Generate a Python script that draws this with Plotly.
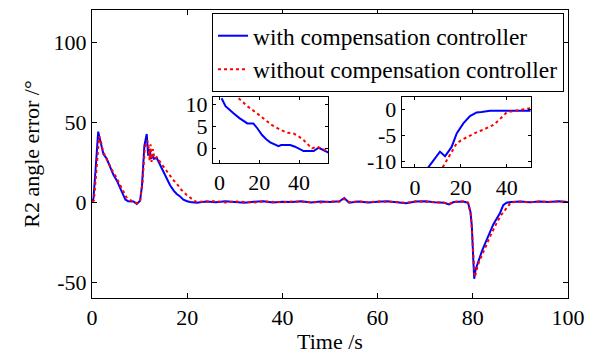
import plotly.graph_objects as go

# ---------------- data ----------------
t_with = [0, 0.3, 0.7, 1.0, 1.3, 1.6, 2.0, 2.4, 3.1, 4.0, 4.5, 5.2, 5.9, 6.6, 7.0, 7.6, 8.7, 9.4, 10.1,
          10.5, 11.0, 11.5, 11.8, 12.1, 12.4, 12.7, 13.0, 13.6, 14.5, 15.7, 16.4, 17.2, 17.8, 18.5, 19.2,
          20.0, 20.6, 22, 24, 26, 28, 30, 32, 34, 36, 38, 40, 42, 44, 46, 48, 50, 52, 53, 53.5, 54, 56,
          58, 60, 62, 64, 66, 68, 70, 72, 74, 75, 76, 78, 79, 79.5, 79.8, 80.1, 80.3, 80.6, 80.9, 81.2,
          82, 82.9, 83.6, 84.3, 85, 85.7, 86.4, 87.1, 88, 90, 92, 94, 96, 98, 100]
e_with = [0, 2, 18, 35, 44, 40, 34, 30, 27, 20, 17, 13.5, 8.5, 4.5, 1.5, 0.5, 0.3, -1.2, 0.8,
          10, 35, 42.5, 29, 33, 27, 29, 27, 27.5, 22, 14, 10.5, 7, 5, 3.5, 1.5,
          0.5, 0, -0.5, 0.3, -0.2, 0.4, 0, -0.4, 0.2, 0.5, -0.3, 0.2, 0, 0.5, -0.3, 0.3, 0, 0.4, 2.5, 1, -0.5, 0.3,
          -0.3, 0.2, 0.5, -0.2, -0.8, 0.3, 0.5, -0.2, -0.5, -1.5, 0, 0.3, -0.5, -6, -15, -36, -48, -42, -40, -37,
          -30, -23.5, -19, -14, -10.5, -7, -2, -0.4, 0, 0.3, -0.2, 0.3, 0, 0.4, 0]

t_without = [0, 0.4, 0.8, 1.2, 1.5, 1.8, 2.2, 2.7, 3.5, 4.2, 5.0, 5.8, 6.5, 7.2, 7.8, 8.7, 9.4, 10.1,
             10.6, 11.1, 11.6, 11.9, 12.1, 12.3, 12.5, 12.8, 13.1, 13.6, 14.3, 15.0, 16.0, 17.0, 17.8,
             18.8, 19.9, 20.6, 21.3, 22, 24, 26, 28, 30, 32, 34, 36, 38, 40, 42, 44, 46, 48, 50, 52, 53,
             53.6, 54, 56, 58, 60, 62, 64, 66, 68, 70, 72, 74, 75, 76, 78, 79, 79.6, 79.9, 80.2, 80.4, 80.7,
             81, 81.5, 82.3, 83.0, 83.6, 84.4, 85.2, 86, 86.8, 87.5, 88, 89, 90, 92, 94, 96, 98, 100]
e_without = [0, 1, 15, 32, 41, 39, 33, 29, 24, 20, 16, 11, 6.5, 3, 1.5, 0.3, -0.8, 0.8,
             12, 34, 38.5, 34, 26, 36, 25, 33, 27, 28, 25, 22, 17.5, 14, 11.5,
             7.5, 4.4, 2.5, 1.2, 0, 0.2, 0.5, -0.3, 0.3, 0, -0.3, 0.4, 0.2, -0.2, 0.3, 0.2, 0, -0.3, 0.3, 0.2, 2,
             0.5, 0, 0.3, -0.2, 0.3, 0.2, 0, -0.5, 0.4, 0.2, -0.3, -0.4, -1.2, 0.2, 0.3, -0.3, -8, -22, -40, -47, -44,
             -40, -36, -31, -26, -21.7, -16.5, -12, -8, -5, -2, -0.3, 0, 0.2, -0.2, 0.3, 0.1, 0.3, 0]

# inset 1 (upper-left inset)
i1_x_with = [1, 3, 7, 10, 14, 17, 19, 21.4, 23.5, 25.5, 29.7, 31, 35.6, 38, 42.3, 47.4, 49.9, 52, 55]
i1_y_with = [11.3, 9.5, 7.9, 6.8, 5.6, 5.6, 4.5, 2.95, 2.0, 1.3, 0.45, 0.7, 0.7, 0.3, -0.7, -0.7, 0.07, -0.4, -1.07]
i1_x_without = [9.6, 14, 18.8, 22.5, 26.4, 30, 34, 37.3, 40, 42.3, 44.5, 46.5, 49, 52, 55]
i1_y_without = [11.3, 9.5, 7.9, 6.5, 5.2, 4.3, 3.5, 3.3, 2.6, 1.8, 0.9, -0.07, 0.3, -0.2, -0.8]

# inset 2 (upper-right inset)
i2_x_with = [5.8, 8, 10.9, 13.1, 16, 18.2, 21.1, 24, 26.9, 29, 32.8, 40, 45, 50.5]
i2_y_with = [-11.1, -9.8, -8.1, -8.98, -7.2, -4.6, -2.7, -1.3, -0.6, -0.5, -0.27, -0.27, -0.27, -0.27]
i2_x_without = [12.1, 15, 18.2, 21, 24, 26.9, 29.8, 32, 34.2, 37, 40, 42, 44.3, 47, 50.5]
i2_y_without = [-11.1, -8.8, -6.5, -5.7, -5.0, -4.4, -3.9, -3.4, -3.0, -1.9, -0.6, -0.4, -0.27, -0.1, 0.2]

main_x_ticks = [0, 20, 40, 60, 80, 100]
main_y_ticks = [-50, 0, 50, 100]
main_y_ticktext = ["-50", "0", "50", "100"]
i1_x_ticks = [0, 20, 40]
i1_y_ticks = [0, 5, 10]
i2_x_ticks = [0, 20, 40]
i2_y_ticks = [-10, -5, 0]
i2_y_ticktext = ["-10", "-5", "0"]

names = ["with compensation controller", "without compensation controller"]

# ---------------- figure ----------------
FONT = "Liberation Serif, Times New Roman, serif"
BLUE = "#0000FF"
RED = "#FF0000"

fig = go.Figure()
fig.add_trace(go.Scatter(x=t_with, y=e_with, mode="lines", name=names[0],
                         line=dict(color=BLUE, width=2)))
fig.add_trace(go.Scatter(x=t_without, y=e_without, mode="lines", name=names[1],
                         line=dict(color=RED, width=2, dash="dot")))
fig.add_trace(go.Scatter(x=i1_x_with, y=i1_y_with, mode="lines", showlegend=False,
                         line=dict(color=BLUE, width=2), xaxis="x2", yaxis="y2"))
fig.add_trace(go.Scatter(x=i1_x_without, y=i1_y_without, mode="lines", showlegend=False,
                         line=dict(color=RED, width=2, dash="dot"), xaxis="x2", yaxis="y2"))
fig.add_trace(go.Scatter(x=i2_x_with, y=i2_y_with, mode="lines", showlegend=False,
                         line=dict(color=BLUE, width=2), xaxis="x3", yaxis="y3"))
fig.add_trace(go.Scatter(x=i2_x_without, y=i2_y_without, mode="lines", showlegend=False,
                         line=dict(color=RED, width=2, dash="dot"), xaxis="x3", yaxis="y3"))

W, H = 593, 354
L, R, T, B = 92, 25, 10, 56
pw, ph = W - L - R, H - T - B


def dom_x(a, b):
    return [(a - L) / pw, (b - L) / pw]


def dom_y(top, bot):
    return [(H - B - bot) / ph, (H - B - top) / ph]


ax_common = dict(showline=True, linecolor="black", linewidth=1, mirror="allticks",
                 ticks="inside", tickcolor="black", showgrid=False, zeroline=False,
                 automargin=False,
                 tickfont=dict(family=FONT, size=22, color="black"))

fig.update_layout(
    width=W, height=H,
    margin=dict(l=L, r=R, t=T, b=B, autoexpand=False),
    paper_bgcolor="white", plot_bgcolor="white",
    font=dict(family=FONT, size=22, color="black"),
    xaxis=dict(range=[0, 100], tickvals=main_x_ticks, ticklen=5,
               title=dict(text="Time /s", font=dict(family=FONT, size=22), standoff=5),
               **ax_common),
    yaxis=dict(range=[-60, 120], tickvals=main_y_ticks, ticktext=main_y_ticktext, ticklen=5,
               title=dict(text="R2 angle error /°", font=dict(family=FONT, size=22), standoff=7),
               **ax_common),
    xaxis2=dict(domain=dom_x(213, 328), anchor="y2", range=[-3.3, 54.6], tickvals=i1_x_ticks,
                ticklen=3, **ax_common),
    yaxis2=dict(domain=dom_y(97, 163), anchor="x2", range=[-3.4, 11.6], tickvals=i1_y_ticks,
                ticklen=3, **ax_common),
    xaxis3=dict(domain=dom_x(401.7, 530.7), anchor="y3", range=[-5.8, 50.5], tickvals=i2_x_ticks,
                ticklen=3, **ax_common),
    yaxis3=dict(domain=dom_y(97.3, 167.3), anchor="x3", range=[-11.1, 2.3], tickvals=i2_y_ticks,
                ticktext=i2_y_ticktext, ticklen=3, **ax_common),
    legend=dict(x=(564 - L) / pw, xanchor="right", y=(H - B - 13) / ph, yanchor="top",
                bgcolor="white", bordercolor="black", borderwidth=1,
                font=dict(family=FONT, size=23.4, color="black"),
                tracegroupgap=0),
    showlegend=True,
)

fig.write_html("out.html", config={"displayModeBar": False},
               post_script="document.body.style.margin='0px';document.body.style.overflow='hidden';")
